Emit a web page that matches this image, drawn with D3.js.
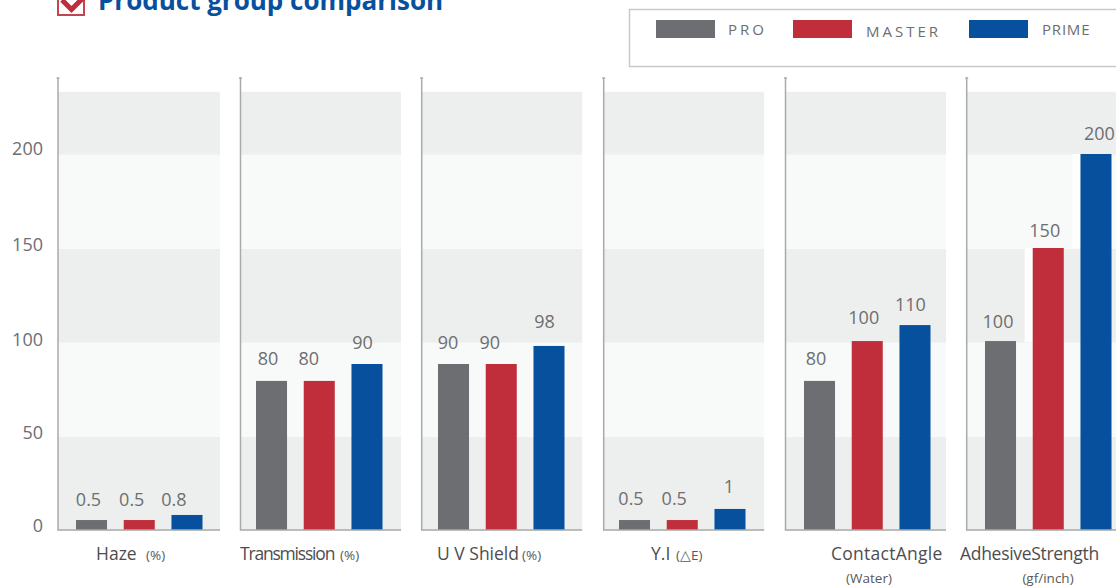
<!DOCTYPE html>
<html>
<head>
<meta charset="utf-8">
<script src="https://cdn.jsdelivr.net/npm/d3@7"></script>
<style>
	body { margin: 0; background: #fff; overflow: hidden; }
	text { font-family: "Open Sans", sans-serif; }
</style>
</head>
<body>
<svg width="1116" height="587"></svg>
<script>
const series = ["PRO", "MASTER", "PRIME"]
const colors = ["#6d6e71", "#bf2e3a", "#07509d"]

const categories = ["Haze", "Transmission", "U V Shield", "Y.I", "ContactAngle", "AdhesiveStrength"]
const units = ["(%)", "(%)", "(%)", "(△E)", "", ""]
const subUnits = ["", "", "", "", "(Water)", "(gf/inch)"]

// what is printed over the bars
const proPrinted = ["0.5", "80", "90", "0.5", "80", "100"]
const masterPrinted = ["0.5", "80", "90", "0.5", "100", "150"]
const primePrinted = ["0.8", "90", "98", "1", "110", "200"]

// what the bars are really drawn at, read against the axis
const proValues = [5.3, 79.3, 88.3, 5.3, 79.3, 100.5]
const masterValues = [5.3, 79.3, 88.3, 5.3, 100.5, 150]
const primeValues = [8, 88.3, 97.9, 11.2, 109, 200]

const yTicks = [0, 50, 100, 150, 200]
const bandEdges = [0, 50, 100, 150, 200, 233.5]

// layout
const baseY = 530
const topY = 154
const panelX = [58, 240.5, 421.7, 603.7, 785.5, 966.7]
const panelW = [162, 160.5, 160.5, 160.5, 160.5, 162]
const barX = [76, 256, 438, 619, 804, 985]
const barRange = 162.5
const labelDx = [[-3, -7.5, -13], [-3.5, -10.5, -4.5], [-5.5, -11.5, -4.5], [-3.5, -8, -1], [-3.5, -3.5, -4.5], [-2.5, -3.5, 3.5]]
const labelGap = [[14, 14, 9], [15.5, 15.5, 15], [15, 15, 18], [15, 15, 16], [16, 17, 14], [13, 11, 14]]
const nameX = [96, 240, 437, 651, 831, 960]
const unitX = [146, 340, 522, 676, 0, 0]
const subX = [0, 0, 0, 0, 869, 1048]
const nameSpacing = [0, -1.2, 0, 0, 0.27, -0.3]
const tickNudge = [0, 1, 2, 1, -1]

const svg = d3.select("svg")
const y = d3.scaleLinear().domain([0, 200]).range([baseY, topY])
const allValues = [proValues, masterValues, primeValues]
const allPrinted = [proPrinted, masterPrinted, primePrinted]

categories.forEach((cat, i) => {
	const g = svg.append("g").attr("class", "panel")
	const x = d3.scaleBand().domain(series)
		.range([barX[i] - 18, barX[i] - 18 + barRange])
		.paddingInner(0.35).paddingOuter(0.377)

	g.selectAll("rect.band")
		.data(d3.pairs(bandEdges))
		.enter().append("rect")
		.attr("class", "band")
		.attr("x", panelX[i])
		.attr("width", panelW[i])
		.attr("y", d => y(d[1]) + 0.7)
		.attr("height", d => y(d[0]) - y(d[1]))
		.style("fill", (d, k) => k % 2 ? "#f8faf9" : "#edefee")

	// the last panel has white cut outs beside its tall bars
	if (i == 5) {
		g.append("rect").attr("x", x("MASTER") - 8).attr("width", 8)
			.attr("y", y(masterValues[i])).attr("height", y(100) - y(masterValues[i]))
			.style("fill", "#fff")
		g.append("rect").attr("x", x("PRIME") - 8).attr("width", 8)
			.attr("y", y(primeValues[i])).attr("height", y(150) - y(primeValues[i]))
			.style("fill", "#fff")
	}

	g.selectAll("rect.bar")
		.data(series)
		.enter().append("rect")
		.attr("class", "bar")
		.attr("x", d => x(d))
		.attr("width", x.bandwidth())
		.attr("y", (d, k) => y(allValues[k][i]))
		.attr("height", (d, k) => baseY - y(allValues[k][i]))
		.style("fill", (d, k) => colors[k])

	g.selectAll("text.val")
		.data(series)
		.enter().append("text")
		.attr("class", "val")
		.attr("x", d => x(d) + x.bandwidth() / 2)
		.attr("dx", (d, k) => labelDx[i][k])
		.attr("y", (d, k) => y(allValues[k][i]) - labelGap[i][k])
		.attr("text-anchor", "middle")
		.style("font-size", "18px")
		.style("fill", "#6d6e71")
		.text((d, k) => allPrinted[k][i])

	// axis lines
	g.append("path")
		.attr("d", `M${panelX[i] - 1.5},78H${panelX[i] + 1.5}M${panelX[i]},78V${baseY}H${panelX[i] + panelW[i]}`)
		.style("fill", "none")
		.style("stroke", "#a9abab")
		.style("stroke-width", 1.5)

	g.append("text")
		.attr("x", nameX[i]).attr("y", 560)
		.style("font-size", "17.5px")
		.style("letter-spacing", nameSpacing[i] + "px")
		.style("fill", "#4d4d4f")
		.text(cat)
	if (units[i]) g.append("text")
		.attr("x", unitX[i]).attr("y", 560)
		.style("font-size", "13.5px")
		.style("fill", "#58595b")
		.text(units[i])
	if (subUnits[i]) g.append("text")
		.attr("x", subX[i]).attr("y", 583)
		.attr("text-anchor", "middle")
		.style("font-size", "13.5px")
		.style("fill", "#58595b")
		.text(subUnits[i])
})

// y axis labels
const yAxis = d3.axisLeft(y).tickValues(yTicks).tickSize(0).tickPadding(0)
const yG = svg.append("g").attr("transform", "translate(43,-4)").call(yAxis)
yG.select(".domain").remove()
yG.selectAll("text")
	.attr("transform", (d, k) => `translate(0,${tickNudge[k]})`)
	.style("font-family", '"Open Sans", sans-serif')
	.style("font-size", "18px")
	.style("fill", "#6d6e71")

// legend
svg.append("rect")
	.attr("x", 629.5).attr("y", 9.5).attr("width", 500).attr("height", 57)
	.style("fill", "#fff").style("stroke", "#c8c9c9").style("stroke-width", 1.5)
const legendX = [656, 793, 969]
const legendTextX = [728, 866, 1042]
const legendTextY = [35, 37, 35]
const legendSpacing = [3, 3, 0.8]
series.forEach((s, i) => {
	svg.append("rect")
		.attr("x", legendX[i]).attr("y", 20).attr("width", 59).attr("height", 18)
		.style("fill", colors[i])
	svg.append("text")
		.attr("x", legendTextX[i]).attr("y", legendTextY[i])
		.style("font-size", "15px")
		.style("letter-spacing", legendSpacing[i] + "px")
		.style("fill", "#6d6e71")
		.text(s)
})

// title and check mark
svg.append("path")
	.attr("d", "M58,-8V15H84V-8Z")
	.style("fill", "#fff").style("stroke", "#c4454f").style("stroke-width", 2)
svg.append("path")
	.attr("d", "M62,0L71.5,9.5L84,-3")
	.style("fill", "none").style("stroke", "#bf2e3a").style("stroke-width", 5)
svg.append("text")
	.attr("x", 98).attr("y", 10)
	.style("font-size", "26px")
	.style("font-weight", 700)
	.style("fill", "#07509d")
	.text("Product group comparison")
</script>
</body>
</html>
